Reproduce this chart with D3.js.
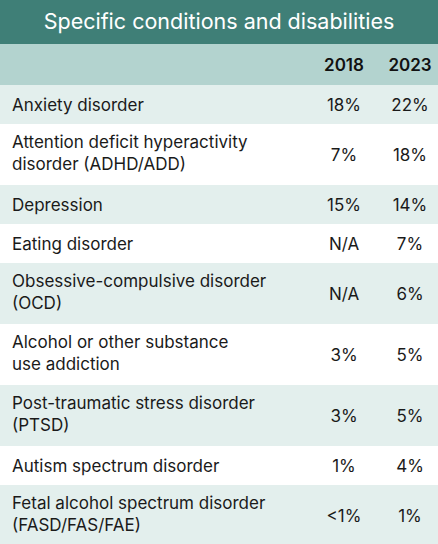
<!DOCTYPE html>
<html><head><meta charset="utf-8">
<script src="https://cdn.jsdelivr.net/npm/d3@7"></script>
<style>body{margin:0;background:#fff}</style>
</head><body><div id="chart"></div>
<script>
const title = "Specific conditions and disabilities";
const years = ["2018", "2023"];
const conditions = [
  ["Anxiety disorder"],
  ["Attention deficit hyperactivity", "disorder (ADHD/ADD)"],
  ["Depression"],
  ["Eating disorder"],
  ["Obsessive-compulsive disorder", "(OCD)"],
  ["Alcohol or other substance", "use addiction"],
  ["Post-traumatic stress disorder", "(PTSD)"],
  ["Autism spectrum disorder"],
  ["Fetal alcohol spectrum disorder", "(FASD/FAS/FAE)"]
];
const v2018 = ["18%", "7%", "15%", "N/A", "N/A", "3%", "3%", "1%", "<1%"];
const v2023 = ["22%", "18%", "14%", "7%", "6%", "5%", "5%", "4%", "1%"];

const W = 438, H = 544;
const svg = d3.select("#chart").append("svg").attr("width", W).attr("height", H)
  .style("font-family", "Inter, 'Noto Sans', sans-serif");

// row heights: single line vs two lines
const heights = conditions.map(c => c.length > 1 ? 61 : 39);
let y0 = 85;
const tops = heights.map(h => { const t = y0; y0 += h; return t; });

svg.append("rect").attr("width", W).attr("height", 44).attr("fill", "#3f7f77");
svg.append("text").attr("x", W / 2).attr("y", 29).attr("text-anchor", "middle")
  .attr("fill", "#fff").attr("font-size", 21.5).text(title);
svg.append("rect").attr("y", 44).attr("width", W).attr("height", 41).attr("fill", "#b3d3cf");

const x = d3.scaleOrdinal().domain(years).range([344, 410]);
svg.selectAll(".yr").data(years).enter().append("text")
  .attr("x", d => x(d)).attr("y", 71).attr("text-anchor", "middle")
  .attr("font-size", 17).attr("font-weight", 600).attr("fill", "#111").text(d => d);

const rows = svg.selectAll(".row").data(conditions).enter().append("g")
  .attr("transform", (d, i) => `translate(0,${tops[i]})`);
rows.append("rect").attr("width", W).attr("height", (d, i) => heights[i])
  .attr("fill", (d, i) => i % 2 === 0 ? "#e3efed" : "#fff");
rows.append("text").attr("x", 12).attr("font-size", 17).attr("fill", "#1a1a1a")
  .each(function (d, i) {
    const h = heights[i];
    d3.select(this).selectAll("tspan").data(d).enter().append("tspan")
      .attr("x", 12)
      .attr("y", (l, j) => d.length > 1 ? 24 + j * 22 : h / 2 + 6)
      .text(l => l);
  });
rows.append("text").attr("x", x("2018")).attr("y", (d, i) => heights[i] / 2 + 6)
  .attr("text-anchor", "middle").attr("font-size", 17).attr("fill", "#1a1a1a")
  .text((d, i) => v2018[i]);
rows.append("text").attr("x", x("2023")).attr("y", (d, i) => heights[i] / 2 + 6)
  .attr("text-anchor", "middle").attr("font-size", 17).attr("fill", "#1a1a1a")
  .text((d, i) => v2023[i]);
</script></body></html>
